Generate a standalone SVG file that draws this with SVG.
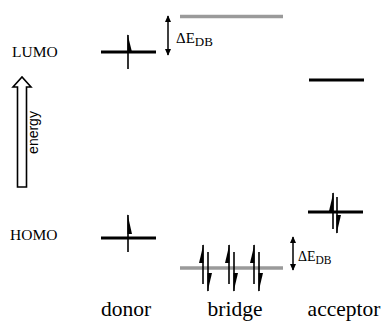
<svg xmlns="http://www.w3.org/2000/svg" width="382" height="321" viewBox="0 0 382 321">
  <style>
    .lvl { stroke: #000; stroke-width: 3; fill: none; }
    .brg { stroke: #9a9a9a; stroke-width: 3.5; fill: none; }
    .spin { stroke: #000; stroke-width: 1.6; fill: none; }
    .wedge { fill: #000; stroke: none; }
    .lbl { font-family: "Liberation Serif", "Times New Roman", serif; fill: #000; }
    .dim { stroke: #000; stroke-width: 1.5; fill: none; }
  </style>
  <defs>
    <marker id="ah" viewBox="0 0 10 10" refX="9" refY="5" markerWidth="4.5" markerHeight="4.5" orient="auto-start-reverse">
      <path d="M0,0.5 L10,5 L0,9.5 z" fill="#000"/>
    </marker>
  </defs>

  <!-- axis labels -->
  <text class="lbl" x="12" y="57" font-size="15.5">LUMO</text>
  <text class="lbl" x="10" y="240" font-size="15.5">HOMO</text>

  <!-- energy arrow -->
  <g id="energy-axis">
    <path d="M17.5,187 L17.5,87 L13,87 L22,77 L31,87 L26.5,87 L26.5,187 Z" fill="#fff" stroke="#000" stroke-width="1.6"/>
    <text transform="translate(38,132.5) rotate(-90)" text-anchor="middle" font-family="Liberation Sans, Arial, sans-serif" font-size="14">energy</text>
  </g>

  <!-- donor -->
  <g id="donor">
    <line class="lvl" x1="101" y1="52" x2="156" y2="52"/>
    <line class="spin" x1="128" y1="35" x2="128" y2="69"/>
    <path class="wedge" d="M127.5,34 L132,52 L127.5,52 Z"/>
    <line class="lvl" x1="101" y1="238" x2="156" y2="238"/>
    <line class="spin" x1="128" y1="215" x2="128" y2="252"/>
    <path class="wedge" d="M127.5,214 L132,234 L127.5,234 Z"/>
    <text class="lbl" x="126" y="316" font-size="21.5" text-anchor="middle">donor</text>
  </g>

  <!-- bridge -->
  <g id="bridge">
    <line class="brg" x1="180" y1="16.5" x2="283" y2="16.5"/>
    <line class="brg" x1="180" y1="268" x2="283" y2="268"/>
    <g id="pair-1">
      <line class="spin" x1="203" y1="245" x2="203" y2="284"/>
      <path class="wedge" d="M203.5,244 L199,263 L203.5,263 Z"/>
      <line class="spin" x1="208" y1="252" x2="208" y2="291"/>
      <path class="wedge" d="M207.5,292 L212,273 L207.5,273 Z"/>
    </g>
    <g id="pair-2">
      <line class="spin" x1="229" y1="245" x2="229" y2="284"/>
      <path class="wedge" d="M229.5,244 L225,263 L229.5,263 Z"/>
      <line class="spin" x1="234" y1="252" x2="234" y2="291"/>
      <path class="wedge" d="M233.5,292 L238,273 L233.5,273 Z"/>
    </g>
    <g id="pair-3">
      <line class="spin" x1="254" y1="245" x2="254" y2="284"/>
      <path class="wedge" d="M254.5,244 L250,263 L254.5,263 Z"/>
      <line class="spin" x1="259" y1="252" x2="259" y2="291"/>
      <path class="wedge" d="M258.5,292 L263,273 L258.5,273 Z"/>
    </g>
    <text class="lbl" x="235" y="316" font-size="21.5" text-anchor="middle">bridge</text>
  </g>

  <!-- acceptor -->
  <g id="acceptor">
    <line class="lvl" x1="309" y1="80" x2="364" y2="80"/>
    <line class="lvl" x1="308" y1="212" x2="363" y2="212"/>
    <line class="spin" x1="333" y1="193" x2="333" y2="229"/>
    <path class="wedge" d="M333.5,192 L329,211 L333.5,211 Z"/>
    <line class="spin" x1="337" y1="197" x2="337" y2="233"/>
    <path class="wedge" d="M336.5,234 L341,215 L336.5,215 Z"/>
    <text class="lbl" x="344" y="316" font-size="21.5" text-anchor="middle">acceptor</text>
  </g>

  <!-- energy gaps -->
  <g id="connectors">
    <line class="dim" x1="168" y1="16" x2="168" y2="55" marker-start="url(#ah)" marker-end="url(#ah)"/>
    <line class="dim" x1="293" y1="237" x2="293" y2="270" marker-start="url(#ah)" marker-end="url(#ah)"/>
  </g>
  <g id="gap-labels">
    <text class="lbl" x="176" y="43" font-size="15">ΔE<tspan dy="3" font-size="13">DB</tspan></text>
    <text class="lbl" x="298" y="261" font-size="14">ΔE<tspan dy="3" font-size="11.5">DB</tspan></text>
  </g>
</svg>
